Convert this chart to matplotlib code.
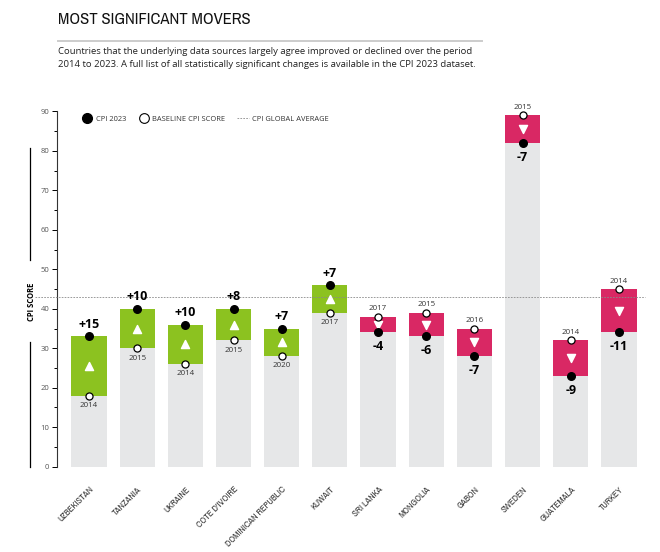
import matplotlib
matplotlib.use('Agg')
import matplotlib.pyplot as plt
from matplotlib.lines import Line2D
from matplotlib import font_manager
import numpy as np

# CPI scores
countries = ['UZBEKISTAN', 'TANZANIA', 'UKRAINE', "COTE D'IVOIRE", 'DOMINICAN REPUBLIC', 'KUWAIT',
             'SRI LANKA', 'MONGOLIA', 'GABON', 'SWEDEN', 'GUATEMALA', 'TURKEY']
score_2023 = [33, 40, 36, 40, 35, 46, 34, 33, 28, 82, 23, 34]
baseline = [18, 30, 26, 32, 28, 39, 38, 39, 35, 89, 32, 45]
baseline_year = [2014, 2015, 2014, 2015, 2020, 2017, 2017, 2015, 2016, 2015, 2014, 2014]
global_avg = 43

# look for a narrow face for the title and country names
narrow = None
for f in font_manager.fontManager.ttflist:
    if 'Narrow' in f.name or 'Condensed' in f.name:
        narrow = dict(family=f.name)
        break
    if f.stretch in ('condensed', 'semi-condensed', 500 - 100) and f.name == 'DejaVu Sans':
        narrow = dict(family='DejaVu Sans', fontstretch='condensed')
if narrow is None:
    narrow = dict(family='DejaVu Sans')
    label_size, title_size = 5.4, 10.5
else:
    label_size, title_size = 6.5, 12

plt.rcParams['font.family'] = ['Open Sans', 'DejaVu Sans']

green = '#8cc220'
pink = '#d92864'
grey = '#e6e7e8'

s23 = np.array(score_2023)
base = np.array(baseline)
low = np.minimum(s23, base)
high = np.maximum(s23, base)
up = s23 > base
x = np.arange(len(countries))

fig = plt.figure(figsize=(6.6, 5.52), dpi=100)
ax = fig.add_axes([57 / 660, 0.1545, 588 / 660, 0.6437])

# grey columns up to the lower score, coloured box for the change
ax.bar(x, low, width=0.73, color=grey, zorder=1)
ax.bar(x, high - low, bottom=low, width=0.73, color=np.where(up, green, pink), zorder=2)

# global average
ax.axhline(global_avg, xmin=-0.037, xmax=1, color='#8a8a8a', lw=0.6, ls=(0, (2, 1.5)),
           clip_on=False, zorder=3)

# markers
ax.scatter(x, base, s=26, facecolor='white', edgecolor='black', lw=0.9, zorder=5)
ax.scatter(x, s23, s=30, color='black', zorder=5)
mid = (s23 + base) / 2
ax.scatter(x[up], mid[up], marker='^', s=34, color='white', zorder=4)
ax.scatter(x[~up], mid[~up], marker='v', s=34, color='white', zorder=4)

# labels for change and baseline year
for i in range(len(x)):
    d = s23[i] - base[i]
    lab = f'+{d}' if d > 0 else f'{d}'
    if d > 0:
        ax.annotate(lab, (x[i], high[i]), xytext=(0, 6), textcoords='offset points',
                    ha='center', va='baseline', fontsize=9, fontweight='bold',
                    annotation_clip=False)
        ax.annotate(str(baseline_year[i]), (x[i], low[i]), xytext=(0, -4.5), textcoords='offset points',
                    ha='center', va='top', fontsize=5.7, color='#333333', annotation_clip=False)
    else:
        ax.annotate(lab, (x[i], low[i]), xytext=(0, -5.5), textcoords='offset points',
                    ha='center', va='top', fontsize=9, fontweight='bold',
                    annotation_clip=False)
        ax.annotate(str(baseline_year[i]), (x[i], high[i]), xytext=(0, 4.5), textcoords='offset points',
                    ha='center', va='baseline', fontsize=5.7, color='#333333', annotation_clip=False)

ax.set_xlim(-0.664, 11.54)
ax.set_ylim(0, 90)
ax.set_yticks(np.arange(0, 91, 10))
ax.set_yticks(np.arange(5, 90, 10), minor=True)
ax.tick_params(axis='y', which='major', length=3.5, width=0.7, labelsize=5.5, labelcolor='#555555', pad=2)
ax.tick_params(axis='y', which='minor', length=2.5, width=0.7)
ax.set_xticks(x)
ax.set_xticklabels(countries, rotation=45, ha='right', rotation_mode='anchor',
                   fontsize=label_size, color='#333333', **narrow)
ax.tick_params(axis='x', length=0, pad=13)
for side in ['top', 'right', 'bottom']:
    ax.spines[side].set_visible(False)
ax.spines['left'].set_color('#333333')
ax.spines['left'].set_linewidth(0.8)

# legend
handles = [Line2D([], [], marker='o', ls='none', color='black', markersize=7),
           Line2D([], [], marker='o', ls='none', markerfacecolor='white', markeredgecolor='black',
                  markeredgewidth=0.8, markersize=7),
           Line2D([], [], color='#8a8a8a', lw=0.6, ls=(0, (2, 1.5)))]
ax.legend(handles, ['CPI 2023', 'BASELINE CPI SCORE', 'CPI GLOBAL AVERAGE'], ncol=3, frameon=False,
          fontsize=5.4, loc='upper left', bbox_to_anchor=(0.03, 1.008), handlelength=1.6,
          handletextpad=0.3, columnspacing=1.6, labelcolor='#333333')

# y-axis label with decorative rules
fig.text(32 / 660, 1 - 302 / 552, 'CPI SCORE', rotation=90, ha='center', va='center',
         fontsize=5.5, fontweight='bold')
fig.add_artist(Line2D([30 / 660] * 2, [1 - 148 / 552, 1 - 260 / 552], color='black', lw=0.9))
fig.add_artist(Line2D([30 / 660] * 2, [1 - 342 / 552, 1 - 467 / 552], color='black', lw=0.9))

# title block
fig.text(58 / 660, 1 - 20 / 552, 'MOST SIGNIFICANT MOVERS', ha='left', va='center',
         fontsize=title_size, fontweight='bold', color='#111111', **narrow)
fig.add_artist(Line2D([58 / 660, 482 / 660], [1 - 41 / 552] * 2, color='#cccccc', lw=1.4))
fig.text(58 / 660, 1 - 58 / 552,
         'Countries that the underlying data sources largely agree improved or declined over the period\n'
         '2014 to 2023. A full list of all statistically significant changes is available in the CPI 2023 dataset.',
         ha='left', va='center', fontsize=6.8, color='#222222', linespacing=1.45)

fig.savefig('out.png', dpi=100)
